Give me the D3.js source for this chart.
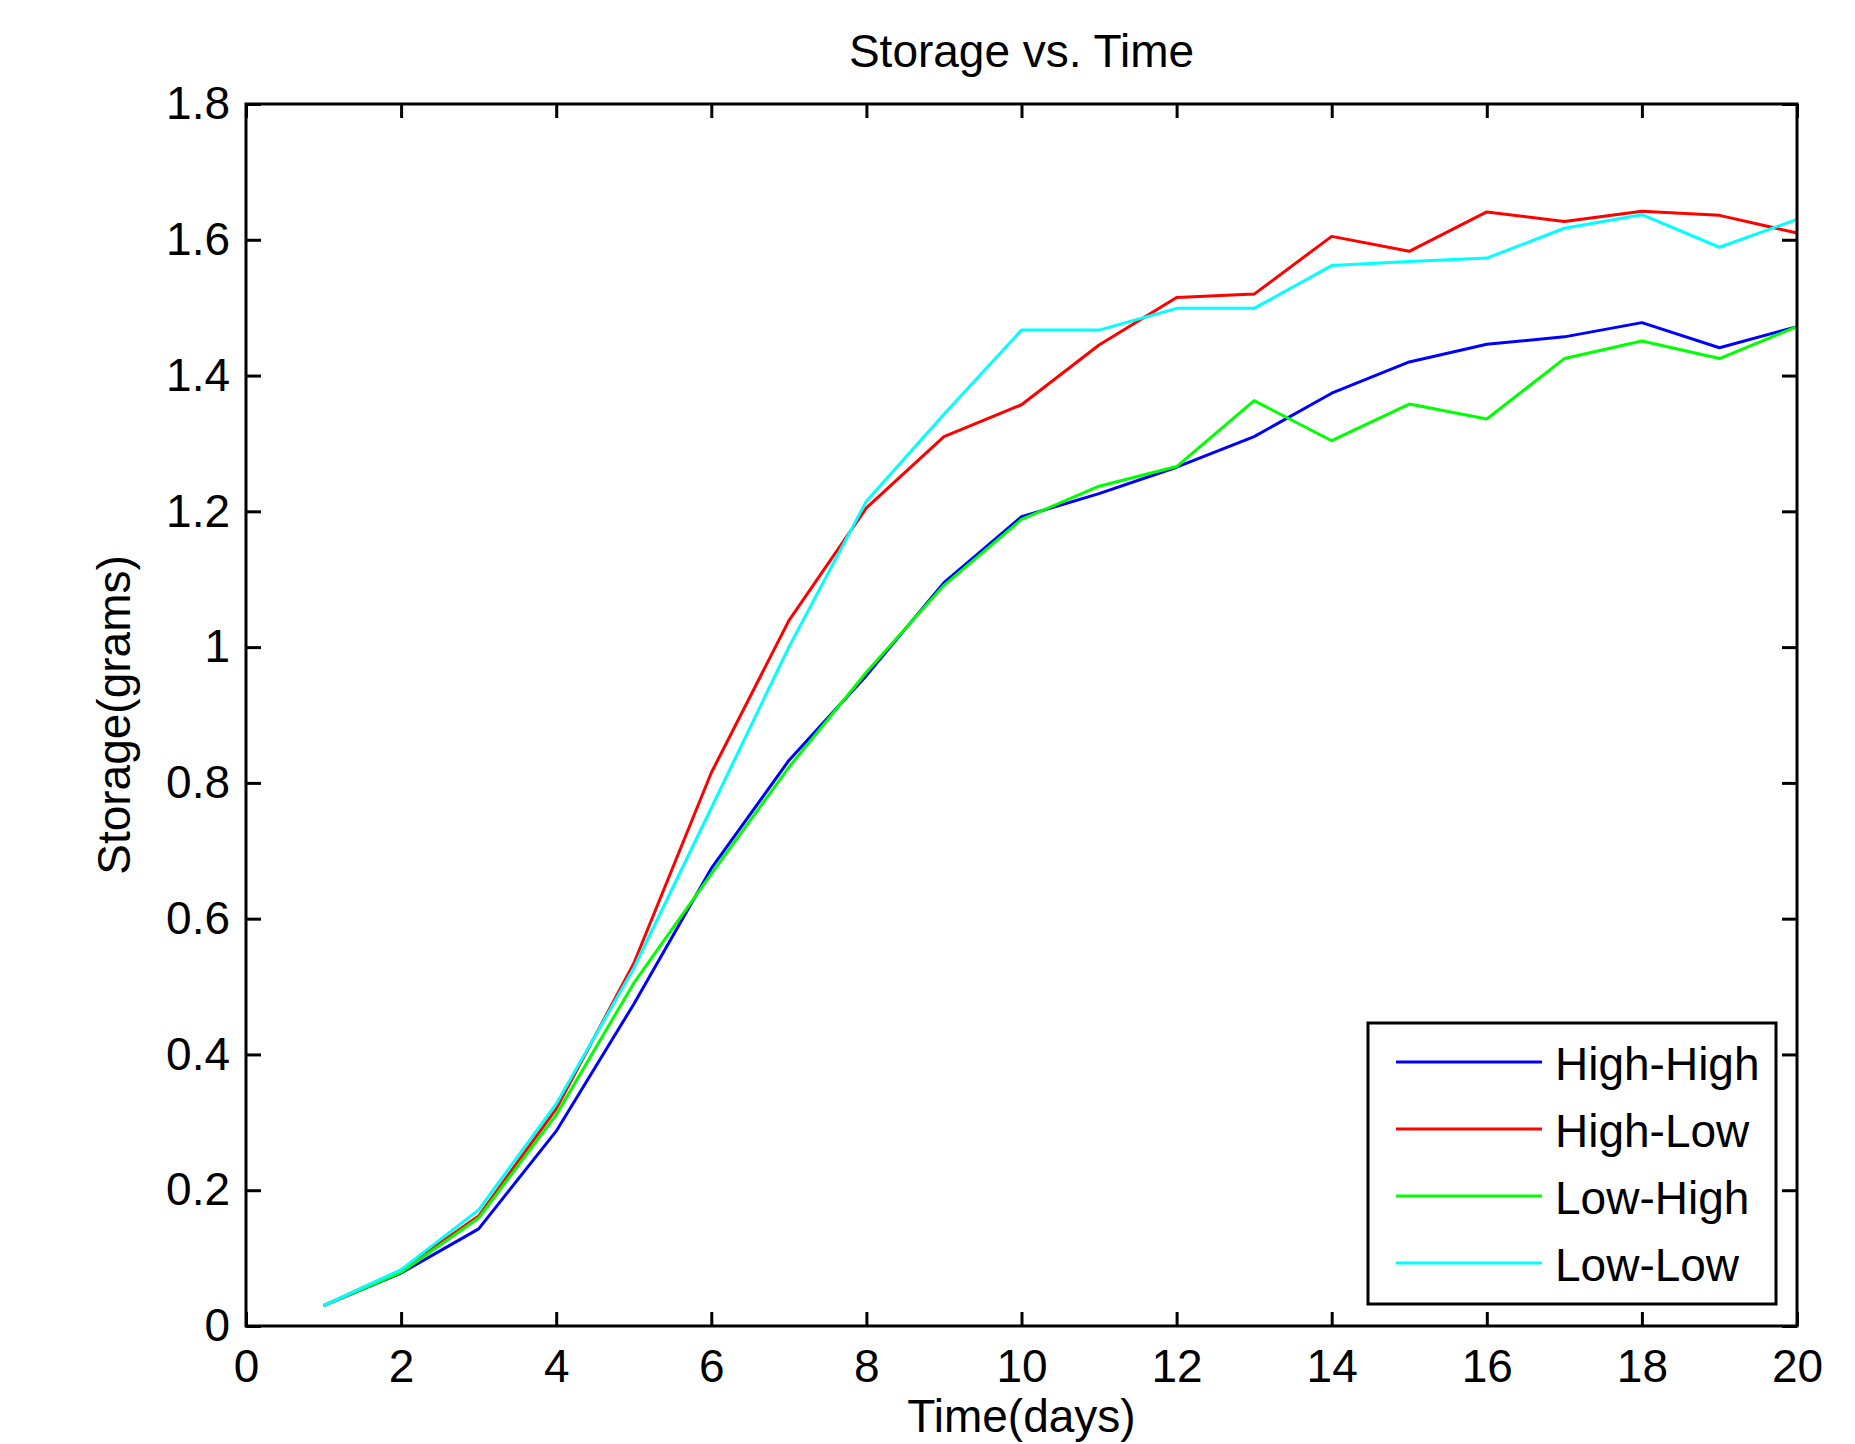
<!DOCTYPE html>
<html>
<head>
<meta charset="utf-8">
<script src="https://cdn.jsdelivr.net/npm/d3@7"></script>
<style>
  body { margin: 0; background: #fff; }
  text { font-family: "Liberation Sans", Arial, sans-serif; fill: #000; }
</style>
</head>
<body>
<div id="chart"></div>
<script>
// days on the x axis
const days = [1, 2, 3, 4, 5, 6, 7, 8, 9, 10, 11, 12, 13, 14, 15, 16, 17, 18, 19, 20];

// storage (grams) per treatment
const highHigh = [0.030, 0.078, 0.143, 0.287, 0.474, 0.674, 0.833, 0.958, 1.095, 1.192,
                  1.226, 1.265, 1.310, 1.374, 1.420, 1.446, 1.457, 1.478, 1.441, 1.472];
const highLow  = [0.030, 0.082, 0.162, 0.320, 0.534, 0.815, 1.039, 1.205, 1.310, 1.357,
                  1.445, 1.515, 1.520, 1.605, 1.583, 1.641, 1.627, 1.642, 1.636, 1.610];
const lowHigh  = [0.030, 0.079, 0.159, 0.311, 0.505, 0.666, 0.823, 0.963, 1.091, 1.188,
                  1.237, 1.266, 1.363, 1.304, 1.358, 1.336, 1.425, 1.451, 1.425, 1.472];
const lowLow   = [0.030, 0.083, 0.171, 0.327, 0.527, 0.763, 1.000, 1.215, 1.343, 1.467,
                  1.467, 1.499, 1.499, 1.562, 1.568, 1.573, 1.617, 1.637, 1.589, 1.630];

const seriesNames = ["High-High", "High-Low", "Low-High", "Low-Low"];
const seriesColors = ["#0000ff", "#ff0000", "#00ff00", "#00ffff"];

const xTicks = [0, 2, 4, 6, 8, 10, 12, 14, 16, 18, 20];
const yTicks = [0, 0.2, 0.4, 0.6, 0.8, 1, 1.2, 1.4, 1.6, 1.8];

const width = 1855, height = 1444;
const margin = { top: 104, right: 58, bottom: 118, left: 246 };
const innerW = width - margin.left - margin.right;
const innerH = height - margin.top - margin.bottom;
const fontSize = 46;

const svg = d3.select("#chart").append("svg")
  .attr("width", width)
  .attr("height", height);

svg.append("rect").attr("width", width).attr("height", height).attr("fill", "#fff");

const g = svg.append("g")
  .attr("transform", `translate(${margin.left},${margin.top})`);

const x = d3.scaleLinear().domain([0, 20]).range([0, innerW]);
const y = d3.scaleLinear().domain([0, 1.8]).range([innerH, 0]);

// lines, plotted in the original order (cyan last, on top)
const allSeries = [highHigh, highLow, lowHigh, lowLow];
const line = d3.line()
  .x((d, i) => x(days[i]))
  .y(d => y(d));

allSeries.forEach((vals, k) => {
  g.append("path")
    .datum(vals)
    .attr("fill", "none")
    .attr("stroke", seriesColors[k])
    .attr("stroke-width", 3)
    .attr("stroke-linejoin", "round")
    .attr("d", line);
});

// axes, ticks pointing inward like a boxed plot
function styleAxis(sel) {
  sel.select(".domain").remove();
  sel.selectAll(".tick line").attr("stroke", "#000").attr("stroke-width", 3);
  sel.selectAll(".tick text").attr("font-size", fontSize)
    .style("font-family", "'Liberation Sans', Arial, sans-serif");
}

g.append("g")
  .attr("transform", `translate(0,${innerH})`)
  .call(d3.axisBottom(x).tickValues(xTicks).tickFormat(d => d)
    .tickSizeInner(-14).tickSizeOuter(0).tickPadding(23))
  .call(styleAxis);

g.append("g")
  .call(d3.axisLeft(y).tickValues(yTicks).tickFormat(d => String(+d.toFixed(1)))
    .tickSizeInner(-15).tickSizeOuter(0).tickPadding(16))
  .call(styleAxis);

g.append("g")
  .call(d3.axisTop(x).tickValues(xTicks).tickFormat("")
    .tickSizeInner(-14).tickSizeOuter(0))
  .call(styleAxis);

g.append("g")
  .attr("transform", `translate(${innerW},0)`)
  .call(d3.axisRight(y).tickValues(yTicks).tickFormat("")
    .tickSizeInner(-15).tickSizeOuter(0))
  .call(styleAxis);

// frame
g.append("rect")
  .attr("width", innerW)
  .attr("height", innerH)
  .attr("fill", "none")
  .attr("stroke", "#000")
  .attr("stroke-width", 3);

// title and axis labels
svg.append("text")
  .attr("x", margin.left + innerW / 2)
  .attr("y", 67)
  .attr("text-anchor", "middle")
  .attr("font-size", fontSize)
  .text("Storage vs. Time");

svg.append("text")
  .attr("x", margin.left + innerW / 2)
  .attr("y", 1432)
  .attr("text-anchor", "middle")
  .attr("font-size", fontSize)
  .text("Time(days)");

svg.append("text")
  .attr("transform", `translate(130,${margin.top + innerH / 2}) rotate(-90)`)
  .attr("text-anchor", "middle")
  .attr("font-size", fontSize)
  .text("Storage(grams)");

// legend
const legend = svg.append("g").attr("transform", "translate(1368,1023)");
legend.append("rect")
  .attr("width", 408)
  .attr("height", 281)
  .attr("fill", "#fff")
  .attr("stroke", "#000")
  .attr("stroke-width", 3);

seriesNames.forEach((name, k) => {
  const ly = 39 + k * 67;
  legend.append("line")
    .attr("x1", 28).attr("x2", 174)
    .attr("y1", ly).attr("y2", ly)
    .attr("stroke", seriesColors[k])
    .attr("stroke-width", 3);
  legend.append("text")
    .attr("x", 187)
    .attr("y", ly + 18)
    .attr("font-size", fontSize)
    .text(name);
});
</script>
</body>
</html>
